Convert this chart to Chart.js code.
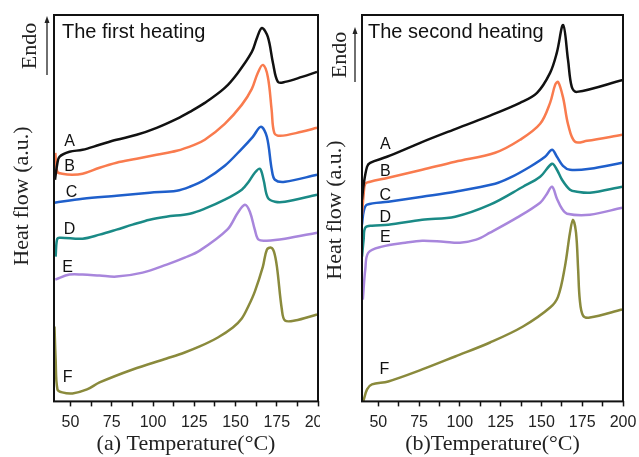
<!DOCTYPE html>
<html>
<head>
<meta charset="utf-8">
<script src="https://cdn.jsdelivr.net/npm/chart.js@4.4.0/dist/chart.umd.min.js"></script>
<style>
  html, body { margin: 0; padding: 0; background: #fff; }
  #wrap { position: relative; width: 639px; height: 457px; overflow: hidden; }
  #left { position: absolute; left: 0; top: 0; }
  #right { position: absolute; left: 320px; top: 0; background: #fff; }
</style>
</head>
<body>
<div id="wrap">
  <canvas id="left" width="320" height="457"></canvas>
  <canvas id="right" width="319" height="457"></canvas>
</div>
<script>
const curveNames = ['A', 'B', 'C', 'D', 'E', 'F'];
const majorTicks = [50, 75, 100, 125, 150, 175, 200];
const minorTicks = [62.5, 87.5, 112.5, 137.5, 162.5, 187.5];

// first heating: temperature (°C) / heat flow (a.u.)
const t1A = [40.6, 42, 43.3, 49.4, 57.3, 67.6, 77.9, 90.1, 102.2, 114.4, 122.3, 131.4, 143.5, 151.4, 159.9, 163, 166, 169.6, 172.7, 175.7, 180, 190.3, 199.4];
const hf1A = [222, 238, 245, 250, 252, 257, 262, 267, 274, 283, 290, 299, 314, 329, 350, 364, 374, 365, 339, 320, 320, 325, 330];
const t1B = [40.8, 42, 45, 51, 57.3, 67.6, 77.9, 90.1, 102.2, 114.4, 125, 131.4, 143.5, 153.8, 159.9, 163.5, 166.6, 169.6, 171.9, 173.5, 177, 190, 199.4];
const hf1B = [249, 230, 228, 227, 228, 234, 239, 243, 247, 251, 257, 262, 278, 297, 313, 329, 337, 325, 292, 269, 266, 270, 274];
const t1C = [40.3, 57.3, 77.9, 98, 114.4, 122.3, 131.4, 143.5, 153.8, 160.5, 165.4, 169, 172, 173.9, 180, 199.4];
const hf1C = [199, 203, 206, 209, 211, 215, 222, 236, 253, 265, 275, 265, 232, 222, 220, 227];
const t1D = [41, 41.8, 43.3, 57.3, 67.6, 77.9, 87.6, 98, 108, 122.3, 131.4, 143.5, 153.8, 158, 161.7, 164.8, 167, 169.6, 174, 180, 199.4];
const hf1D = [145, 162, 164, 163, 167, 172, 177, 182, 185, 188, 193, 202, 212, 220, 229, 233, 222, 204, 200, 200, 207];
const t1E = [40.8, 49.4, 57.3, 67.6, 77.9, 93.7, 108.3, 119.2, 128.3, 145, 151.4, 155.7, 158.7, 161.7, 164, 169, 180, 199.4];
const hf1E = [122, 127, 127, 126, 125, 129, 137, 144, 151, 172, 189, 197, 190, 172, 162, 161, 163, 169];
const t1F = [40.3, 41, 42.1, 45, 51.2, 60, 67.6, 87.7, 108.3, 119.2, 128.3, 139.3, 148.4, 153.8, 158, 161.7, 166.6, 169, 171.5, 173.3, 175.1, 178.1, 180, 186, 199.4];
const hf1F = [75, 42, 12, 9, 8, 12, 19, 32, 43, 49, 55, 64, 74, 83, 96, 110, 135, 152, 154, 150, 135, 92, 81, 81, 87];

// second heating
const t2A = [40, 41, 43.1, 45, 55.3, 75.7, 95.9, 116.6, 136.9, 147.3, 155.3, 159.4, 163.3, 166.3, 168.6, 171.7, 200];
const hf2A = [202, 217, 235, 239, 245, 259, 272, 285, 299, 309, 329, 349, 377, 342, 315, 310, 322];
const t2B = [40, 41, 42, 45, 56.1, 76.9, 97.1, 121.6, 136.9, 149.2, 155.3, 158.4, 160.2, 163.3, 166.4, 170.6, 178, 199.4];
const hf2B = [187, 207, 218, 220, 224, 232, 240, 249, 262, 278, 299, 317, 320, 304, 277, 260, 261, 267];
const t2C = [40, 41, 43.1, 56.1, 76.9, 97.1, 121.6, 130.8, 143, 152.2, 156.5, 159.5, 163.2, 167.5, 179.7, 199.4];
const hf2C = [177, 190, 197, 200, 205, 210, 218, 224, 235, 245, 252, 245, 236, 232, 233, 239];
const t2D = [40, 41, 42, 46.1, 56.1, 76.9, 97.1, 118.5, 138.7, 149.2, 156.5, 159.5, 162.6, 167.5, 171.8, 179.7, 199.4];
const hf2D = [145, 162, 174, 176, 177, 182, 185, 197, 215, 225, 238, 232, 222, 212, 210, 209, 215];
const t2E = [40.5, 42, 43.9, 52.2, 66.5, 76.9, 90, 100, 110, 118.5, 135, 149.2, 153, 156.5, 159.5, 162.6, 165.7, 179.7, 199.4];
const hf2E = [102, 132, 149, 155, 159, 161, 160, 159, 162, 169, 184, 199, 207, 215, 203, 193, 188, 187, 194];
const t2F = [40.8, 43.1, 46.1, 56.1, 76.9, 97.1, 118.5, 138.7, 155.3, 160.2, 164.4, 167.5, 169.3, 171.2, 172.5, 173.5, 175.5, 179.7, 199.4];
const hf2F = [0, 12, 17, 20, 32, 45, 59, 75, 94, 105, 135, 169, 182, 169, 132, 102, 86, 84, 92];

const curveColors = ['#111111', '#f97b4e', '#1f5fcb', '#1a8a86', '#a886dc', '#8a8a3c'];
const sansFont = '"Liberation Sans", Arial, sans-serif';
const serifFont = '"Liberation Serif", "Times New Roman", serif';

// frame, panel title, curve letters, y title and the Endo arrow
const framePlugin = {
  id: 'frame',
  afterDraw(chart, args, opts) {
    const { ctx, chartArea: a, scales } = chart;
    ctx.save();
    ctx.strokeStyle = '#111';
    ctx.lineWidth = 2;
    ctx.strokeRect(a.left, a.top, a.right - a.left, a.bottom - a.top);

    ctx.fillStyle = '#111';
    ctx.textBaseline = 'middle';
    ctx.textAlign = 'left';
    ctx.font = '20px ' + sansFont;
    ctx.fillText(opts.title, a.left + opts.titleDx, a.top + 17);

    ctx.textAlign = 'center';
    ctx.font = '16px ' + sansFont;
    opts.letterT.forEach((t, i) => {
      ctx.fillText(curveNames[i], scales.x.getPixelForValue(t), scales.y.getPixelForValue(opts.letterHf[i]));
    });

    ctx.fillStyle = '#222';
    ctx.font = '22px ' + serifFont;
    ctx.save();
    ctx.translate(a.left - opts.yTitleDx, opts.yTitleY);
    ctx.rotate(-Math.PI / 2);
    ctx.fillText('Heat flow (a.u.)', 0, 0);
    ctx.restore();

    ctx.save();
    ctx.translate(a.left - opts.endoDx, opts.endoY);
    ctx.rotate(-Math.PI / 2);
    ctx.fillText('Endo', 0, 0);
    ctx.restore();

    const ax = a.left - opts.arrowDx;
    ctx.strokeStyle = '#222';
    ctx.lineWidth = 1.3;
    ctx.beginPath();
    ctx.moveTo(ax, opts.arrowY1);
    ctx.lineTo(ax, opts.arrowY0 + 4);
    ctx.stroke();
    ctx.beginPath();
    ctx.moveTo(ax, opts.arrowY0);
    ctx.lineTo(ax - 2.5, opts.arrowY0 + 7);
    ctx.lineTo(ax + 2.5, opts.arrowY0 + 7);
    ctx.closePath();
    ctx.fill();
    ctx.restore();
  }
};

function makePanel(canvasId, temps, flows, xTitle, padding, frameOpts) {
  return new Chart(document.getElementById(canvasId), {
    type: 'line',
    data: {
      datasets: temps.map((t, i) => ({
        label: curveNames[i],
        data: t.map((x, j) => ({ x: x, y: flows[i][j] })),
        borderColor: curveColors[i],
        borderWidth: 2.5,
        pointRadius: 0,
        tension: 0.35,
        fill: false
      }))
    },
    options: {
      responsive: false,
      animation: false,
      layout: { padding: padding },
      plugins: {
        legend: { display: false },
        tooltip: { enabled: false },
        frame: frameOpts
      },
      scales: {
        x: {
          type: 'linear',
          min: 40,
          max: 200,
          afterBuildTicks: s => {
            s.ticks = majorTicks.concat(minorTicks).sort((p, q) => p - q).map(v => ({ value: v }));
          },
          afterFit: s => { s.paddingLeft = 0; s.paddingRight = 0; },
          ticks: {
            autoSkip: false,
            maxRotation: 0,
            padding: 7,
            color: '#222',
            font: { family: sansFont, size: 16 },
            callback: v => majorTicks.includes(v) ? String(v) : ''
          },
          grid: { drawOnChartArea: false, drawTicks: true, tickLength: 5, tickColor: '#111', tickWidth: 1.5 },
          border: { display: false },
          title: {
            display: true,
            text: xTitle,
            color: '#222',
            font: { family: serifFont, size: 22 },
            padding: { top: -9, bottom: 0 }
          }
        },
        y: { display: false, min: 0, max: 387 }
      }
    },
    plugins: [framePlugin]
  });
}

makePanel('left',
  [t1A, t1B, t1C, t1D, t1E, t1F],
  [hf1A, hf1B, hf1C, hf1D, hf1E, hf1F],
  '(a) Temperature(°C)',
  { left: 54, right: 2, top: 15, bottom: 0 },
  {
    title: 'The first heating', titleDx: 8,
    letterT: [49.4, 49.4, 50.6, 49.4, 48.2, 48.2],
    letterHf: [260, 235, 209, 172, 134, 24],
    yTitleDx: 32, yTitleY: 196,
    endoDx: 24, endoY: 46,
    arrowDx: 7, arrowY0: 16, arrowY1: 75
  });

makePanel('right',
  [t2A, t2B, t2C, t2D, t2E, t2F],
  [hf2A, hf2B, hf2C, hf2D, hf2E, hf2F],
  '(b)Temperature(°C)',
  { left: 42, right: 16, top: 15, bottom: 0 },
  {
    title: 'The second heating', titleDx: 6,
    letterT: [54.3, 54.3, 54.3, 54.3, 54.3, 53.7],
    letterHf: [257, 230, 206, 184, 164, 32],
    yTitleDx: 27, yTitleY: 210,
    endoDx: 22, endoY: 55,
    arrowDx: 7, arrowY0: 27, arrowY1: 82
  });
</script>
</body>
</html>
